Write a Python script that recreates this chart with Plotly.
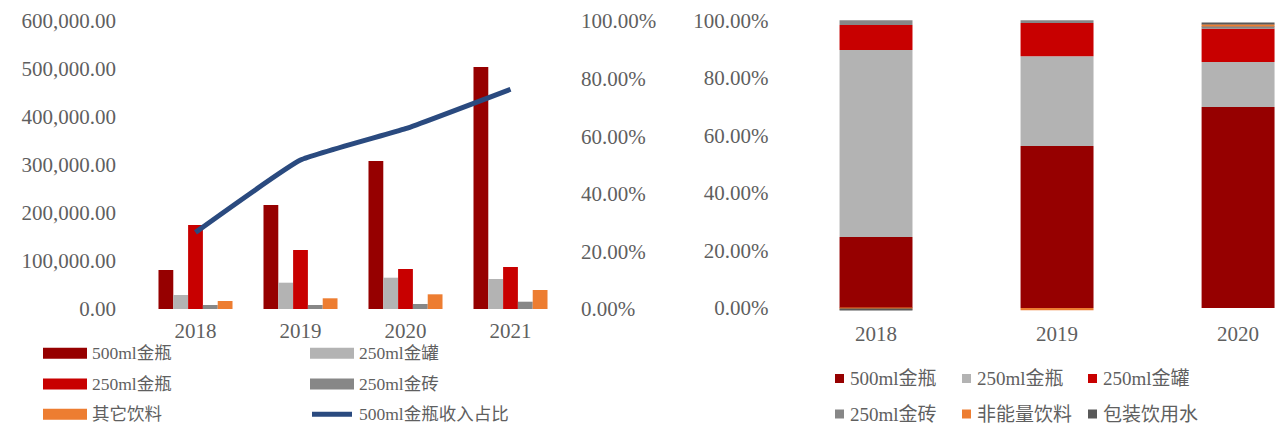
import plotly.graph_objects as go
import numpy as np

# ---------------- data ----------------
years_left = ["2018", "2019", "2020", "2021"]
left_names = ["500ml金瓶", "250ml金罐", "250ml金瓶", "250ml金砖", "其它饮料"]
v_500_bottle = [81250, 216700, 308300, 504200]
v_250_can = [29200, 54800, 65200, 62500]
v_250_bottle = [175000, 122900, 83300, 87500]
v_250_brick = [8300, 8300, 10400, 15200]
v_other = [16700, 22300, 30600, 39600]
line_name = "500ml金瓶收入占比"
share_500 = [0.266, 0.517, 0.626, 0.763]

years_right = ["2018", "2019", "2020"]
right_names = ["500ml金瓶", "250ml金瓶", "250ml金罐", "250ml金砖", "非能量饮料", "包装饮用水"]
r_500_bottle = [0.247, 0.563, 0.699]
r_250_bottle = [0.650, 0.313, 0.157]
r_250_can = [0.087, 0.115, 0.115]
r_250_brick = [0.017, 0.010, 0.010]
r_non_energy = [-0.005, -0.008, 0.006]
r_water = [-0.004, 0.0, 0.0045]

# ---------------- styles ----------------
W, H = 1275, 427
FONT = "Liberation Serif, Noto Sans CJK SC, serif"
TXT = "#5f5f5f"
C_DRED = "#960000"
C_LGREY = "#b3b3b3"
C_RED = "#c80000"
C_GREY = "#878787"
C_ORANGE = "#ed7d31"
C_DGREY = "#595959"
C_LINE = "#2a4a7f"

def px_x(p):
    return p / W

def px_y(p):
    return 1 - p / H

fig = go.Figure()

left_vals = [v_500_bottle, v_250_can, v_250_bottle, v_250_brick, v_other]
left_cols = [C_DRED, C_LGREY, C_RED, C_GREY, C_ORANGE]
for name, vals, col in zip(left_names, left_vals, left_cols):
    fig.add_trace(go.Bar(x=years_left, y=vals, name=name, marker=dict(color=col, line=dict(width=0)),
                         xaxis="x", yaxis="y", showlegend=False))

fig.add_trace(go.Scatter(x=years_left, y=share_500, name=line_name, mode="lines",
                         line=dict(color=C_LINE, width=5, shape="spline", smoothing=0.35),
                         xaxis="x", yaxis="y2", showlegend=False))

right_vals = [r_500_bottle, r_250_bottle, r_250_can, r_250_brick, r_non_energy, r_water]
right_cols = [C_DRED, C_LGREY, C_RED, C_GREY, C_ORANGE, C_DGREY]
pos_cum = np.zeros(len(years_right))
neg_cum = np.zeros(len(years_right))
for name, vals, col in zip(right_names, right_vals, right_cols):
    v = np.array(vals, dtype=float)
    base = np.where(v >= 0, pos_cum, neg_cum)
    pos_cum = pos_cum + np.where(v >= 0, v, 0)
    neg_cum = neg_cum + np.where(v < 0, v, 0)
    fig.add_trace(go.Bar(x=years_right, y=v, base=base, name=name, offsetgroup="stack",
                         width=0.403, marker=dict(color=col, line=dict(width=0)),
                         xaxis="x2", yaxis="y3", showlegend=False))

tickfont = dict(family=FONT, size=21, color=TXT)
common = dict(showgrid=False, showline=False, zeroline=False, automargin=False, tickfont=tickfont)

fig.update_layout(
    template="none",
    width=W, height=H,
    margin=dict(l=0, r=0, t=0, b=0, pad=0),
    paper_bgcolor="white", plot_bgcolor="white",
    barmode="group", bargap=0.295, bargroupgap=0,
    showlegend=False,
    xaxis=dict(domain=[px_x(143), px_x(563)], type="category", ticks="outside", ticklen=3,
               tickcolor="rgba(0,0,0,0)", anchor="y", **common),
    yaxis=dict(domain=[px_y(309), px_y(21)], range=[0, 600000], dtick=100000, tickformat=",.2f",
               ticklabelstandoff=26, anchor="x", **common),
    yaxis2=dict(overlaying="y", side="right", range=[0, 1], dtick=0.2, tickformat=".2%",
                ticklabelstandoff=17, anchor="x", **common),
    xaxis2=dict(domain=[px_x(785.5), 1.0], type="category", range=[-0.5, 2.204], ticks="outside",
                ticklen=3, tickcolor="rgba(0,0,0,0)", anchor="y3", **common),
    yaxis3=dict(domain=[px_y(311.45), px_y(17.6)], range=[-0.012, 1.01],
                tickvals=[0, 0.2, 0.4, 0.6, 0.8, 1.0], tickformat=".2%",
                ticklabelstandoff=16, anchor="x2", **common),
)

shapes = []
annotations = []

# left custom legend (2 columns x 3 rows)
left_legend = [
    (left_names[0], C_DRED, "bar", 43, 353.3),
    (left_names[1], C_LGREY, "bar", 310, 353.3),
    (left_names[2], C_RED, "bar", 43, 384),
    (left_names[3], C_GREY, "bar", 310, 384),
    (left_names[4], C_ORANGE, "bar", 43, 414.3),
    (line_name, C_LINE, "line", 310, 414.3),
]
for name, col, kind, x0, yc in left_legend:
    if kind == "bar":
        shapes.append(dict(type="rect", xref="paper", yref="paper",
                           x0=px_x(x0), x1=px_x(x0 + 44), y0=px_y(yc + 5.5), y1=px_y(yc - 5.5),
                           fillcolor=col, line=dict(width=0)))
    else:
        shapes.append(dict(type="line", xref="paper", yref="paper",
                           x0=px_x(x0 + 2), x1=px_x(x0 + 42), y0=px_y(yc), y1=px_y(yc),
                           line=dict(color=col, width=5)))
    annotations.append(dict(text=name, xref="paper", yref="paper", x=px_x(x0 + 47), y=px_y(yc),
                            xanchor="left", yanchor="middle", showarrow=False,
                            font=dict(family=FONT, size=17.5, color=TXT)))

# right custom legend (3 columns x 2 rows)
right_legend_pos = [(835, 378.5), (962, 378.5), (1088, 378.5),
                    (835, 414), (962, 414), (1088, 414)]
for name, col, (x0, yc) in zip(right_names, right_cols, right_legend_pos):
    shapes.append(dict(type="rect", xref="paper", yref="paper",
                       x0=px_x(x0), x1=px_x(x0 + 9), y0=px_y(yc + 4.5), y1=px_y(yc - 4.5),
                       fillcolor=col, line=dict(width=0)))
    annotations.append(dict(text=name, xref="paper", yref="paper", x=px_x(x0 + 13), y=px_y(yc),
                            xanchor="left", yanchor="middle", showarrow=False,
                            font=dict(family=FONT, size=19, color=TXT)))

fig.update_layout(shapes=shapes, annotations=annotations)

fig.write_html("out.html")
